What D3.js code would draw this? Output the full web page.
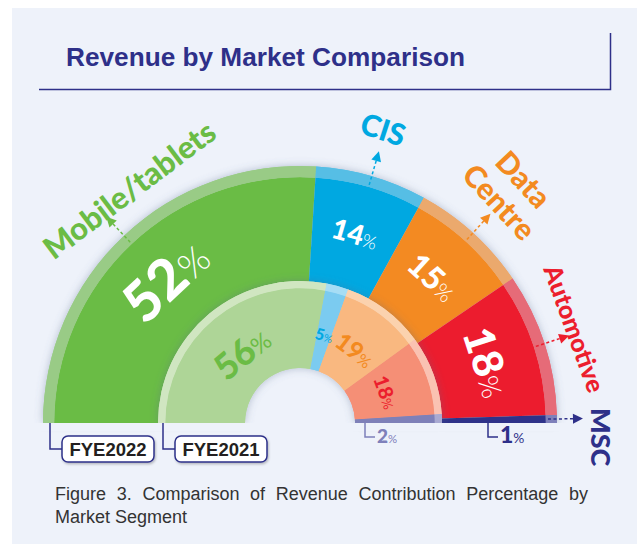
<!DOCTYPE html>
<html><head><meta charset="utf-8">
<script src="https://cdn.jsdelivr.net/npm/d3@7"></script>
<style>body{margin:0;background:#fff;} svg{display:block}</style>
</head><body>
<svg id="c" width="637" height="544"></svg>
<script>
// ---------- data ----------
const categories = ["Mobile/tablets", "CIS", "Data Centre", "Automotive", "MSC"];
const fye2022 = [52, 14, 15, 18, 1];
const fye2021 = [56, 5, 19, 18, 2];
const seriesNames = ["FYE2022", "FYE2021"];
const titleText = "Revenue by Market Comparison";
const captionLines = ["Figure 3. Comparison of Revenue Contribution Percentage by", "Market Segment"];

// ---------- styles ----------
const mainColors = ["#6BBC45", "#00A8E1", "#F38A20", "#EC1E2D", "#2E3089"];
const outerRimColors = ["#99CB86", "#56BEE5", "#EBA96D", "#E66B78", "#7E80BA"];
const innerColors = ["#AED597", "#7BCBF0", "#F9B880", "#F58F76", "#7E80B8"];
const innerRimColors = ["#D0E6C1", "#A6DDF5", "#FBD2AE", "#FAC2B2", "#A9AAD2"];
const outerPctSize = [56, 28, 32, 42];
const innerPctSize = [36, 16, 24, 20];
const catLabelCfg = [ // angle offset from slice mid (deg), radius, rotation, font size
  {da: 7, r: 289, rot: -37, fs: 31},
  {da: -0.4, r: 305, rot: 18, fs: 30},
  {da: 0, r: 314, rot: 47, fs: 30},
  {da: -1, r: 290, rot: 70, fs: 25},
  {da: 3.6, r: 301, rot: 90, fs: 27}
];

const svg = d3.select("#c");
const W = 637, H = 544;
const cx = 300, cy = 423;
const rHole = 55, rInRim = 135, rIn = 142, rOutRim = 246, rOut = 257;

const defs = svg.append("defs");
const f = defs.append("filter").attr("id", "sh").attr("x", "-20%").attr("y", "-20%").attr("width", "140%").attr("height", "140%");
f.append("feDropShadow").attr("dx", 0).attr("dy", 0).attr("stdDeviation", 4).attr("flood-color", "#5a6a90").attr("flood-opacity", 0.4);
const f2 = defs.append("filter").attr("id", "sh2").attr("x", "-20%").attr("y", "-20%").attr("width", "140%").attr("height", "140%");
f2.append("feDropShadow").attr("dx", 1).attr("dy", 1.5).attr("stdDeviation", 1.2).attr("flood-color", "#000").attr("flood-opacity", 0.25);

// background panel
svg.append("rect").attr("x", 12).attr("y", 8).attr("width", W - 12).attr("height", H - 8).attr("fill", "#EEF2FA");

// title block
svg.append("text").attr("x", 66).attr("y", 66).text(titleText)
  .attr("font-family", "Liberation Sans, Arial, sans-serif").attr("font-weight", "bold")
  .attr("font-size", 25).attr("fill", "#2E3089")
  .attr("textLength", 399).attr("lengthAdjust", "spacingAndGlyphs");
svg.append("path").attr("d", `M39,89.5H610.5V33`).attr("fill", "none").attr("stroke", "#2E3089").attr("stroke-width", 1.5);

// caption
captionLines.forEach((t, i) => {
  const tx = svg.append("text").attr("x", 55).attr("y", 500 + i * 23).text(t)
    .attr("font-family", "Liberation Sans, Arial, sans-serif").attr("font-size", 18).attr("fill", "#333");
  if (i === 0) {
    const nat = tx.node().getComputedTextLength();
    const spaces = t.split(" ").length - 1;
    const ws = (533 - nat) / spaces;
    tx.attr("word-spacing", ws);
  }
});

// ---------- rings ----------
const pie = d3.pie().sort(null).value(d => d).startAngle(-Math.PI / 2).endAngle(Math.PI / 2);
const outerArcs = pie(fye2022);
const innerArcs = pie(fye2021);
const deg = a => a * 180 / Math.PI;
const pt = (a, r) => [cx + r * Math.sin(a), cy - r * Math.cos(a)];
const mid = d => (d.startAngle + d.endAngle) / 2;

const g = svg.append("g");
const gOuter = g.append("g").attr("transform", `translate(${cx},${cy})`).attr("filter", "url(#sh)");
gOuter.selectAll("path.m").data(outerArcs).join("path")
  .attr("d", d3.arc().innerRadius(rIn - 1).outerRadius(rOutRim))
  .attr("fill", (d, i) => mainColors[i]);
gOuter.selectAll("path.r").data(outerArcs).join("path")
  .attr("d", d3.arc().innerRadius(rOutRim - 0.3).outerRadius(rOut))
  .attr("fill", (d, i) => outerRimColors[i]);

const gOuterRim = g.append("g").attr("transform", `translate(${cx},${cy})`);
gOuterRim.selectAll("path").data(outerArcs).join("path")
  .attr("d", d3.arc().innerRadius(rOutRim).outerRadius(rOut))
  .attr("fill", (d, i) => outerRimColors[i]);

const gInner = g.append("g").attr("transform", `translate(${cx},${cy})`).attr("filter", "url(#sh)");
gInner.selectAll("path.m").data(innerArcs).join("path")
  .attr("d", d3.arc().innerRadius(rHole).outerRadius(rInRim))
  .attr("fill", (d, i) => innerColors[i]);
gInner.selectAll("path.r").data(innerArcs).join("path")
  .attr("d", d3.arc().innerRadius(rInRim - 0.3).outerRadius(rIn))
  .attr("fill", (d, i) => innerRimColors[i]);
const gInnerTop = g.append("g").attr("transform", `translate(${cx},${cy})`);
gInnerTop.selectAll("path.m").data(innerArcs).join("path")
  .attr("d", d3.arc().innerRadius(rHole).outerRadius(rInRim))
  .attr("fill", (d, i) => innerColors[i]);
gInnerTop.selectAll("path.r").data(innerArcs).join("path")
  .attr("d", d3.arc().innerRadius(rInRim - 0.3).outerRadius(rIn))
  .attr("fill", (d, i) => innerRimColors[i]);

// clean cut below baseline
svg.append("rect").attr("x", cx - rOut - 12).attr("y", cy).attr("width", 2 * rOut + 24).attr("height", 8).attr("fill", "#EEF2FA");

// ---------- percentage labels ----------
function pctLabel(sel, x, y, rot, val, fs, color, pctWeight, pctScale) {
  const t = sel.append("text").attr("transform", `translate(${x},${y}) rotate(${rot})`)
    .attr("text-anchor", "middle").attr("dy", "0.36em")
    .attr("font-family", "Lato, sans-serif").attr("fill", color).attr("font-size", fs);
  t.append("tspan").attr("font-weight", 900).text(val);
  t.append("tspan").attr("font-weight", pctWeight).attr("font-size", fs * pctScale).text("%");
  return t;
}
const gl = svg.append("g");
outerArcs.forEach((d, i) => {
  if (i === categories.length - 1) return;
  const a = mid(d);
  const [x, y] = pt(a, 197);
  pctLabel(gl, x, y, deg(a), d.data, outerPctSize[i], "#fff", 300, 0.66);
});
innerArcs.forEach((d, i) => {
  if (i === categories.length - 1) return;
  const a = mid(d);
  const [x, y] = pt(a, 91);
  pctLabel(gl, x, y, deg(a), d.data, innerPctSize[i], mainColors[i], 400, 0.66);
});

// small MSC labels below baseline
function smallLabel(rx, val, fs, color) {
  const bx = cx + rx;
  gl.append("path").attr("d", `M${bx},${cy}V${cy + 14}H${bx + 10}`).attr("fill", "none")
    .attr("stroke", color).attr("stroke-width", 1.5);
  const t = gl.append("text").attr("x", bx + 12).attr("y", cy + 20)
    .attr("font-family", "Lato, sans-serif").attr("fill", color).attr("font-size", fs);
  t.append("tspan").attr("font-weight", 900).text(val);
  t.append("tspan").attr("font-weight", 400).attr("font-size", fs * 0.6).text("%");
}
const last = categories.length - 1;
smallLabel((rHole + rInRim) / 2 - 30, fye2021[last], 19, outerRimColors[last]);
smallLabel(188, fye2022[last], 23, mainColors[last]);

// ---------- arrows & category labels ----------
outerArcs.forEach((d, i) => {
  const a = mid(d);
  const c = mainColors[i];
  const [x1, y1] = pt(a, 248);
  const [x2, y2] = pt(a, 274);
  gl.append("line").attr("x1", x1).attr("y1", y1).attr("x2", x2).attr("y2", y2)
    .attr("stroke", c).attr("stroke-width", 1.5).attr("stroke-dasharray", "3,2.5");
  const [tx, ty] = pt(a, 283);
  gl.append("path").attr("d", "M0,0L-5,10L5,10Z")
    .attr("transform", `translate(${tx},${ty}) rotate(${deg(a)})`).attr("fill", c);

  const cfg = catLabelCfg[i];
  const la = a + cfg.da * Math.PI / 180;
  const [lx, ly] = pt(la, cfg.r);
  const words = categories[i] === "Data Centre" ? ["Data", "Centre"] : [categories[i]];
  const t = gl.append("text").attr("transform", `translate(${lx},${ly}) rotate(${cfg.rot})`)
    .attr("text-anchor", "middle").attr("font-family", "Lato, sans-serif").attr("font-weight", 900)
    .attr("font-size", cfg.fs).attr("fill", c);
  words.forEach((w, k) => {
    t.append("tspan").attr("x", 0).attr("dy", k === 0 ? ((0.36 - (words.length - 1) * 0.55) + "em") : "1.1em").text(w);
  });
});

// ---------- series tags ----------
const tagRadii = [rOut - 7, rIn - 5];
seriesNames.forEach((s, i) => {
  const bx = cx - tagRadii[i];
  gl.append("path").attr("d", `M${bx},${cy}V${cy + 26}H${bx + 12}`).attr("fill", "none")
    .attr("stroke", "#2E3089").attr("stroke-width", 1.5);
  gl.append("rect").attr("x", bx + 12).attr("y", cy + 13).attr("width", 92).attr("height", 26).attr("rx", 6)
    .attr("fill", "#fff").attr("stroke", "#2E3089").attr("stroke-width", 1.5).attr("filter", "url(#sh2)");
  gl.append("text").attr("x", bx + 12 + 46).attr("y", cy + 26).attr("dy", "0.36em").attr("text-anchor", "middle")
    .attr("font-family", "Liberation Sans, Arial, sans-serif").attr("font-weight", "bold").attr("font-size", 18.5)
    .attr("fill", "#231F20").text(s);
});
</script>
</body></html>
